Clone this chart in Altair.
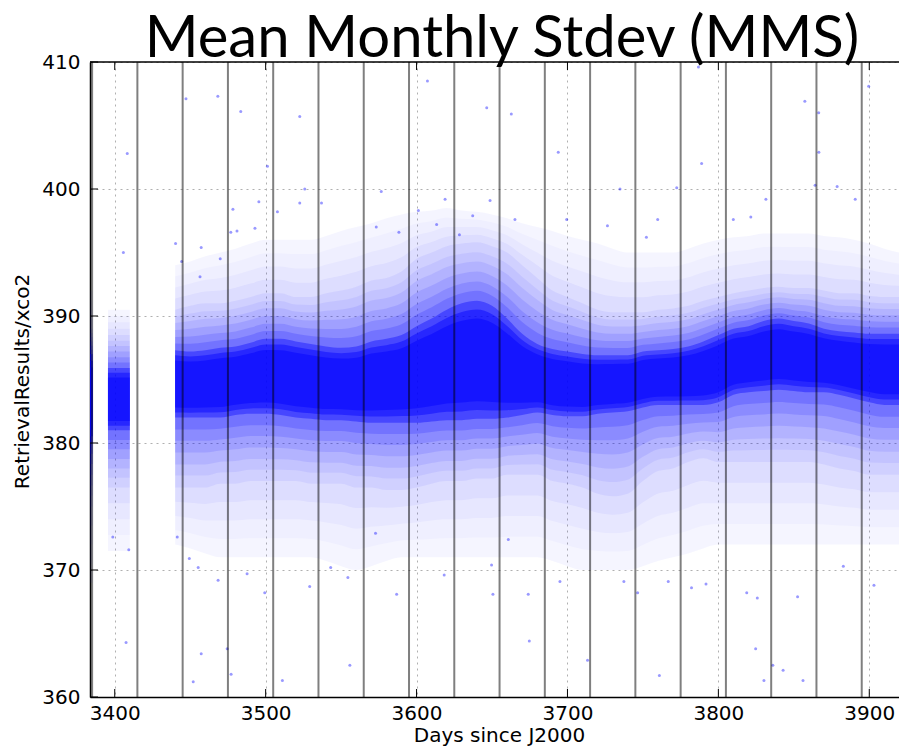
import altair as alt
import pandas as pd

# ---------------------------------------------------------------------------
# XCO2 retrievals vs. time: envelope of the sounding cloud (per ~10-day node),
# isolated soundings, month boundaries and axis ticks.
# ---------------------------------------------------------------------------

# segment id for each node (gaps in coverage split the cloud into pieces)
env_seg = ["a", "a",
           "b", "b", "b", "b"] + ["c"] * 49

env_day = [3383.6, 3385.5,
           3395.5, 3400, 3405, 3410,
           3440, 3450, 3460, 3470, 3480, 3490, 3500, 3510, 3520, 3530,
           3540, 3550, 3560, 3570, 3580, 3590, 3600, 3610, 3620, 3630,
           3640, 3650, 3660, 3670, 3680, 3690, 3700, 3710, 3720, 3730,
           3740, 3750, 3760, 3770, 3780, 3790, 3800, 3810, 3820, 3830,
           3840, 3850, 3860, 3870, 3880, 3890, 3900, 3910, 3920]

# dense core of the cloud (ppm)
core_lo = [380.0, 380.0,
           381.0, 381.0, 381.0, 381.0,
           382.0, 382.0, 382.0, 382.0, 382.2, 382.3, 382.3, 382.2, 382.0, 381.9,
           381.8, 381.8, 381.7, 381.6, 381.6, 381.6, 381.6, 381.7, 381.8, 381.8,
           381.9, 381.9, 382.0, 382.2, 382.4, 382.2, 382.1, 382.1, 382.3, 382.4,
           382.5, 382.8, 383.0, 383.0, 383.0, 383.0, 383.2, 383.8, 384.0, 384.1,
           384.2, 384.1, 384.0, 384.0, 383.8, 383.5, 383.2, 383.0, 383.0]
core_hi = [387.0, 387.0,
           385.9, 385.9, 385.9, 385.9,
           387.3, 387.2, 387.3, 387.5, 387.6, 387.9, 388.2, 388.2, 388.0, 387.8,
           387.6, 387.5, 387.6, 388.0, 388.2, 388.5, 389.2, 389.8, 390.5, 391.0,
           391.2, 390.8, 389.8, 388.6, 387.8, 387.4, 387.2, 387.0, 386.9, 386.9,
           386.9, 387.2, 387.3, 387.4, 387.6, 388.0, 388.5, 389.0, 389.2, 389.6,
           389.8, 389.6, 389.4, 389.0, 388.8, 388.7, 388.6, 388.6, 388.6]

# halo of moderately dense scatter (ppm)
halo_lo = [375.0, 375.0,
           376.5, 376.5, 376.5, 376.5,
           376.5, 376.5, 376.5, 376.8, 376.8, 377.0, 377.0, 377.0, 377.0, 376.8,
           376.8, 376.8, 376.5, 376.5, 376.3, 376.3, 376.5, 376.8, 377.0, 377.0,
           377.2, 377.2, 377.5, 377.5, 377.5, 377.0, 376.8, 376.5, 376.0, 375.8,
           376.0, 377.0, 377.8, 378.0, 378.5, 378.8, 378.5, 378.5, 378.5, 378.5,
           378.5, 378.5, 378.5, 378.3, 378.0, 377.8, 377.5, 377.5, 377.5]
halo_hi = [389.0, 389.0,
           388.5, 388.5, 388.5, 388.5,
           390.5, 390.8, 391.0, 391.0, 391.2, 391.5, 391.8, 391.8, 391.5, 391.5,
           391.8, 392.0, 392.3, 392.8, 393.0, 393.5, 394.5, 395.0, 395.5, 395.7,
           395.8, 395.5, 395.0, 394.0, 393.0, 392.0, 391.5, 391.0, 390.5, 390.3,
           390.3, 390.3, 390.5, 390.6, 390.8, 391.2, 391.5, 391.8, 392.0, 392.2,
           392.3, 392.2, 392.2, 392.0, 391.8, 391.8, 391.6, 391.5, 391.5]

# faint outer scatter (ppm)
outer_lo = [369.0, 369.0,
            371.5, 371.5, 371.5, 371.5,
            372.0, 371.7, 371.3, 371.0, 371.0, 371.0, 371.0, 371.0, 371.0, 371.0,
            370.7, 370.3, 370.0, 370.3, 370.7, 371.0, 371.0, 371.0, 371.0, 371.0,
            371.0, 371.0, 371.0, 371.0, 371.0, 370.7, 370.3, 370.0, 370.0, 370.0,
            370.0, 370.3, 370.7, 371.0, 371.3, 371.7, 372.0, 372.0, 372.0, 372.0,
            372.0, 372.0, 372.0, 372.0, 372.0, 372.0, 372.0, 372.0, 372.0]
outer_hi = [392.0, 392.0,
            390.5, 390.5, 390.5, 390.5,
            394.0, 394.3, 394.7, 395.0, 395.3, 395.7, 396.0, 396.0, 396.0, 396.0,
            396.3, 396.7, 397.0, 397.3, 397.7, 398.0, 398.2, 398.3, 398.5, 398.3,
            398.2, 398.0, 397.7, 397.3, 397.0, 396.7, 396.3, 396.0, 395.7, 395.3,
            395.0, 395.0, 395.0, 395.0, 395.3, 395.7, 396.0, 396.2, 396.3, 396.5,
            396.5, 396.5, 396.5, 396.3, 396.2, 396.0, 395.7, 395.3, 395.0]

# isolated soundings far from the bulk of the cloud
iso_day = [3405.7, 3408.3, 3440.3, 3444.3, 3457.3, 3456.5, 3469.9, 3476.9, 3478.3,
           3481.0, 3492.9, 3495.5, 3501.2, 3507.8, 3447.2, 3468.3, 3483.5, 3522.6,
           3522.6, 3525.9, 3537.0, 3573.3, 3576.6, 3588.3, 3601.2, 3607.2, 3613.3,
           3618.9, 3628.4, 3637.2, 3646.5, 3648.7, 3662.8, 3665.2, 3693.9, 3699.5,
           3726.5, 3734.8, 3752.3, 3759.8, 3772.4, 3786.8, 3788.9, 3809.9, 3821.5,
           3831.5, 3857.3, 3864.1, 3866.5, 3866.6, 3878.7, 3890.7, 3899.6,
           3398.7, 3409.3, 3407.5, 3441.4, 3449.4, 3455.3, 3457.3, 3452.0, 3468.5,
           3474.5, 3477.1, 3487.7, 3499.4, 3511.1, 3529.2, 3543.1, 3554.5, 3555.8,
           3572.8, 3586.8, 3618.3, 3649.7, 3650.6, 3660.8, 3674.0, 3674.7, 3695.0,
           3713.3, 3737.4, 3746.5, 3760.9, 3766.8, 3782.2, 3791.8, 3818.8, 3824.7,
           3825.8, 3830.2, 3836.1, 3842.9, 3852.5, 3856.1, 3882.8, 3903.1]
iso_xco2 = [395.0, 402.8, 395.7, 394.3, 395.4, 393.1, 394.5, 396.6, 398.4,
            396.7, 396.9, 399.0, 401.8, 398.2, 407.1, 407.3, 406.1, 405.7,
            398.9, 400.0, 398.9, 397.0, 399.8, 396.6, 398.3, 408.5, 397.2,
            399.2, 396.4, 397.9, 406.4, 399.1, 405.9, 397.6, 402.9, 397.6,
            397.1, 400.0, 396.2, 397.6, 400.1, 409.6, 402.0, 397.6, 397.8,
            399.2, 406.9, 400.3, 406.0, 402.9, 400.2, 399.2, 408.1,
            372.6, 371.6, 364.3, 372.6, 370.9, 370.2, 363.4, 361.2, 369.2,
            363.8, 361.8, 369.7, 368.2, 361.3, 368.7, 370.2, 369.4, 362.5,
            372.9, 368.1, 369.6, 370.4, 368.1, 372.4, 368.1, 364.4, 369.1,
            362.9, 369.1, 368.2, 361.7, 369.1, 368.6, 368.9, 368.2, 363.8,
            367.8, 361.3, 362.5, 362.1, 367.9, 361.3, 370.3, 368.8]

# month boundaries (days since J2000)
month_day = [3385, 3415, 3445, 3475, 3505, 3535, 3565, 3595, 3625,
             3655, 3685, 3715, 3745, 3775, 3805, 3835, 3865, 3895]

x_ticks = [3400, 3500, 3600, 3700, 3800, 3900]
y_ticks = [360, 370, 380, 390, 400, 410]

TITLE = "Mean Monthly Stdev (MMS)"
X_TITLE = "Days since J2000"
Y_TITLE = "RetrievalResults/xco2"

X_DOMAIN = [3383.6, 3919.7]
Y_DOMAIN = [360, 410]
W, H = 809, 635
BLUE = "#0000ff"

env = pd.DataFrame({
    "seg": env_seg, "day": env_day,
    "core_lo": core_lo, "core_hi": core_hi,
    "halo_lo": halo_lo, "halo_hi": halo_hi,
    "outer_lo": outer_lo, "outer_hi": outer_hi,
})
env["mid"] = (env["core_lo"] + env["core_hi"]) / 2


def edge(side, t):
    """Band edge at shading position t: 2 = outer, 1 = halo, 0 = core,
    negative values move from the core edge toward its middle."""
    core, halo, outer = env[f"core_{side}"], env[f"halo_{side}"], env[f"outer_{side}"]
    if t >= 1:
        return halo + (t - 1) * (outer - halo)
    if t >= 0:
        return core + t * (halo - core)
    return core + (-t) * (env["mid"] - core)


# (position, opacity) of each shading level, outermost first; the stack
# builds up from a faint haze to a nearly solid core.
shade = [(2.0, 0.04), (1.75, 0.025), (1.5, 0.03), (1.25, 0.045), (1.0, 0.055),
         (0.83, 0.06), (0.67, 0.08), (0.5, 0.10), (0.33, 0.13), (0.17, 0.17),
         (0.0, 0.38), (-0.15, 0.45), (-0.3, 0.45)]
frames = []
for i, (t, op) in enumerate(shade):
    f = env[["seg", "day"]].copy()
    f["lo"] = edge("lo", t)
    f["hi"] = edge("hi", t)
    f["level"] = i
    f["op"] = op
    frames.append(f)
bands = pd.concat(frames, ignore_index=True)
bands["key"] = bands["level"].astype(str).str.zfill(2) + bands["seg"]

iso = pd.DataFrame({"day": iso_day, "xco2": iso_xco2})
months = pd.DataFrame({"day": month_day})
xt = pd.DataFrame({"day": x_ticks})
yt = pd.DataFrame({"v": y_ticks})

x_scale = alt.Scale(domain=X_DOMAIN, nice=False, zero=False)
y_scale = alt.Scale(domain=Y_DOMAIN, nice=False, zero=False)

x_axis = alt.Axis(
    values=x_ticks, format="d", title=X_TITLE,
    grid=True, gridColor="#b0b0b0", gridDash=[2, 4], gridWidth=1,
    tickSize=0, labelPadding=6, labelFont="DejaVu Sans", labelFontSize=20,
    labelColor="black", domainColor="black", domainWidth=1.5,
    titleFont="DejaVu Sans", titleFontSize=20, titleFontWeight="normal",
    titleColor="black", titleX=409, titleY=44.5, titleAlign="center",
    titleBaseline="alphabetic",
)
y_axis = alt.Axis(
    values=y_ticks, format="d", title=Y_TITLE,
    grid=True, gridColor="#b0b0b0", gridDash=[2, 4], gridWidth=1,
    tickSize=0, labelPadding=10, labelFont="DejaVu Sans", labelFontSize=20,
    labelColor="black", domainColor="black", domainWidth=1.5,
    titleFont="DejaVu Sans", titleFontSize=20, titleFontWeight="normal",
    titleColor="black", titleAngle=270, titleX=-62, titleY=319,
    titleAlign="center", titleBaseline="alphabetic",
)

cloud = alt.Chart(bands).mark_area(color=BLUE, interpolate="monotone").encode(
    x=alt.X("day:Q", scale=x_scale, axis=x_axis),
    y=alt.Y("lo:Q", scale=y_scale, axis=y_axis),
    y2="hi:Q",
    opacity=alt.Opacity("op:Q", scale=None, legend=None),
    detail="key:N",
)

dots = alt.Chart(iso).mark_circle(color=BLUE, opacity=0.4, size=9).encode(
    x=alt.X("day:Q", scale=x_scale),
    y=alt.Y("xco2:Q", scale=y_scale),
)

month_lines = alt.Chart(months).mark_rule(color="black", opacity=0.5, strokeWidth=2).encode(
    x=alt.X("day:Q", scale=x_scale),
)

# inward tick marks on bottom, top and left edges
tick_bottom = alt.Chart(xt).mark_rule(color="black", strokeWidth=1).encode(
    x=alt.X("day:Q", scale=x_scale), y=alt.value(H - 8), y2=alt.value(H))
tick_top = alt.Chart(xt).mark_rule(color="black", strokeWidth=1).encode(
    x=alt.X("day:Q", scale=x_scale), y=alt.value(0), y2=alt.value(8))
tick_left = alt.Chart(yt).mark_rule(color="black", strokeWidth=1).encode(
    y=alt.Y("v:Q", scale=y_scale), x=alt.value(0), x2=alt.value(8))

# top frame line
top_frame = alt.Chart(yt).transform_filter("datum.v == 410").mark_rule(
    color="black", strokeWidth=1.5).encode(
    y=alt.Y("v:Q", scale=y_scale), x=alt.value(0), x2=alt.value(W))

# chart title, set as a text mark above the plot area
title = alt.Chart(pd.DataFrame({"t": [TITLE]})).mark_text(
    font="Lato", fontSize=58, color="black", align="center",
    baseline="alphabetic",
).encode(text="t:N", x=alt.value(412), y=alt.value(-5))

chart = alt.layer(
    cloud, dots, month_lines,
    tick_bottom, tick_top, tick_left, top_frame, title,
).properties(
    width=W, height=H,
    autosize=alt.AutoSizeParams(type="none"),
    padding={"left": 90, "top": 62, "right": 0, "bottom": 49},
    background="white",
).configure_view(stroke=None)

chart.save("out.html", embed_options={"renderer": "svg", "actions": False})
